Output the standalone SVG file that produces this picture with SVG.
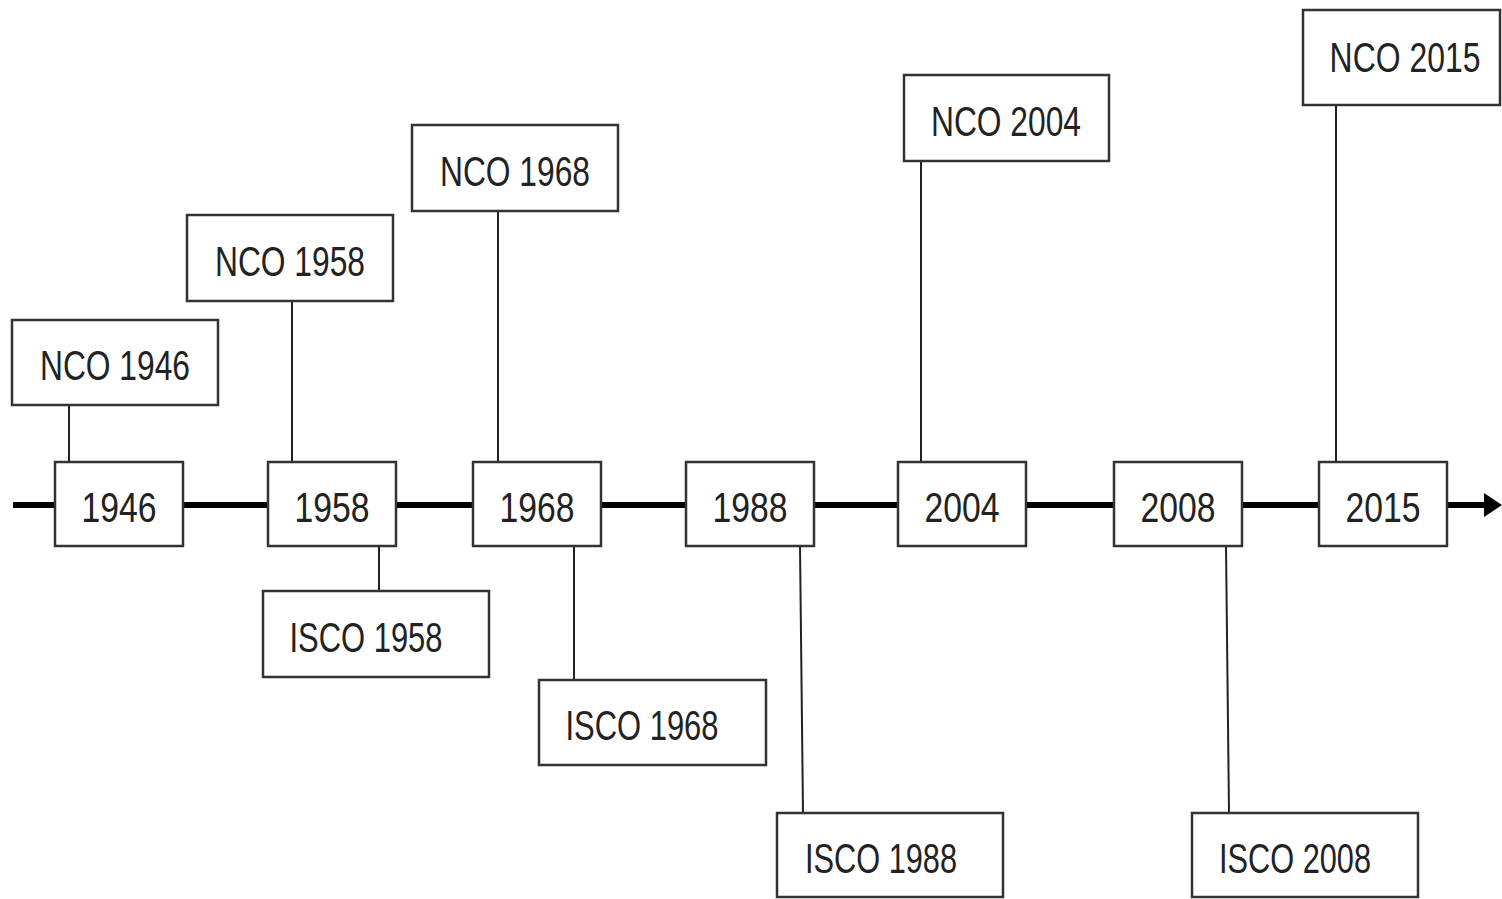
<svg xmlns="http://www.w3.org/2000/svg" width="1502" height="899" viewBox="0 0 1502 899">
<style>
.box{fill:#fff;stroke:#333;stroke-width:2.5}
.t{font-family:"Liberation Sans",Arial,sans-serif;font-size:42px;fill:#222;text-anchor:middle}
.c{stroke:#222;stroke-width:2;fill:none}
.axis{stroke:#000;stroke-width:6}
</style>
<rect width="1502" height="899" fill="#fff"/>
<g id="connectors">
<line class="axis" x1="13" y1="505" x2="1488" y2="505"/>
<polygon points="1484,493 1502,505 1484,517" fill="#000"/>
<line class="c" x1="69" y1="405" x2="69" y2="462"/>
<line class="c" x1="292" y1="301" x2="292" y2="462"/>
<line class="c" x1="498" y1="211" x2="498" y2="462"/>
<line class="c" x1="921" y1="161" x2="921" y2="462"/>
<line class="c" x1="1336" y1="105" x2="1336" y2="462"/>
<line class="c" x1="379" y1="546" x2="379" y2="591"/>
<line class="c" x1="574" y1="546" x2="574" y2="680"/>
<line class="c" x1="800" y1="546" x2="803" y2="813"/>
<line class="c" x1="1226" y1="546" x2="1229" y2="813"/>
</g>
<g id="y1946"><rect class="box" x="55" y="462" width="128" height="84"/><text class="t" x="119" y="522" textLength="75" lengthAdjust="spacingAndGlyphs">1946</text></g>
<g id="y1958"><rect class="box" x="268" y="462" width="128" height="84"/><text class="t" x="332" y="522" textLength="75" lengthAdjust="spacingAndGlyphs">1958</text></g>
<g id="y1968"><rect class="box" x="473" y="462" width="128" height="84"/><text class="t" x="537" y="522" textLength="75" lengthAdjust="spacingAndGlyphs">1968</text></g>
<g id="y1988"><rect class="box" x="686" y="462" width="128" height="84"/><text class="t" x="750" y="522" textLength="75" lengthAdjust="spacingAndGlyphs">1988</text></g>
<g id="y2004"><rect class="box" x="898" y="462" width="128" height="84"/><text class="t" x="962" y="522" textLength="75" lengthAdjust="spacingAndGlyphs">2004</text></g>
<g id="y2008"><rect class="box" x="1114" y="462" width="128" height="84"/><text class="t" x="1178" y="522" textLength="75" lengthAdjust="spacingAndGlyphs">2008</text></g>
<g id="y2015"><rect class="box" x="1319" y="462" width="128" height="84"/><text class="t" x="1383" y="522" textLength="75" lengthAdjust="spacingAndGlyphs">2015</text></g>
<g id="nco1946"><rect class="box" x="12" y="320" width="206" height="85"/><text class="t" x="115" y="380" textLength="150" lengthAdjust="spacingAndGlyphs">NCO 1946</text></g>
<g id="nco1958"><rect class="box" x="187" y="215" width="206" height="86"/><text class="t" x="290" y="276" textLength="150" lengthAdjust="spacingAndGlyphs">NCO 1958</text></g>
<g id="nco1968"><rect class="box" x="412" y="125" width="206" height="86"/><text class="t" x="515" y="186" textLength="150" lengthAdjust="spacingAndGlyphs">NCO 1968</text></g>
<g id="nco2004"><rect class="box" x="904" y="75" width="205" height="86"/><text class="t" x="1006" y="136" textLength="150" lengthAdjust="spacingAndGlyphs">NCO 2004</text></g>
<g id="nco2015"><rect class="box" x="1303" y="10" width="197" height="95"/><text class="t" transform="translate(1405,72) scale(0.76,1)" x="0" y="0">NCO 2015</text></g>
<g id="isco1958"><rect class="box" x="263" y="591" width="226" height="86"/><text class="t" x="366" y="652" textLength="153" lengthAdjust="spacingAndGlyphs">ISCO 1958</text></g>
<g id="isco1968"><rect class="box" x="539" y="680" width="227" height="85"/><text class="t" x="642" y="740" textLength="153" lengthAdjust="spacingAndGlyphs">ISCO 1968</text></g>
<g id="isco1988"><rect class="box" x="777" y="813" width="226" height="84"/><text class="t" x="881" y="873" textLength="152" lengthAdjust="spacingAndGlyphs">ISCO 1988</text></g>
<g id="isco2008"><rect class="box" x="1192" y="813" width="226" height="84"/><text class="t" x="1295" y="873" textLength="152" lengthAdjust="spacingAndGlyphs">ISCO 2008</text></g>
</svg>
